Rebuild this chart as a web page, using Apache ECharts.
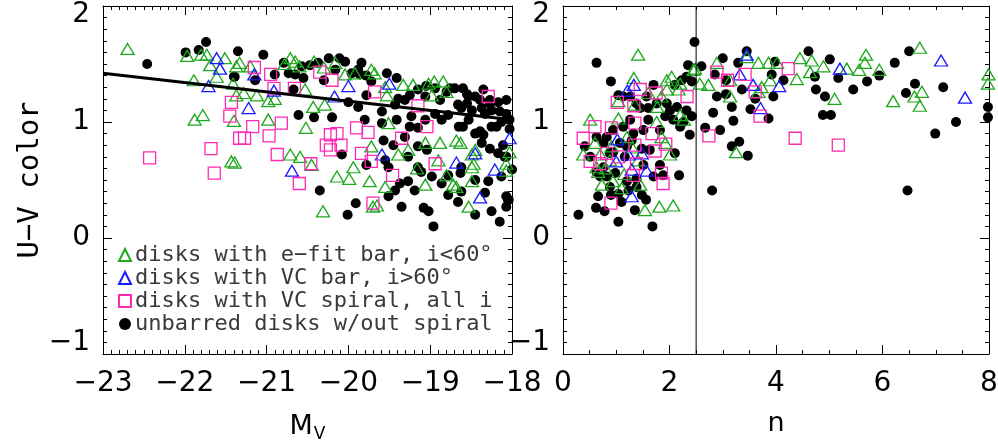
<!DOCTYPE html>
<html>
<head>
<meta charset="utf-8">
<script src="https://cdn.jsdelivr.net/npm/echarts@6/dist/echarts.min.js"></script>
<style>html,body{margin:0;padding:0;background:#fff;}#c{width:998px;height:440px;}</style>
</head>
<body>
<div id="c"></div>
<script>
// ---- data ----
const seriesNames = ['disks with e\u2212fit bar, i<60\u00b0', 'disks with VC bar, i>60\u00b0', 'disks with VC spiral, all i', 'unbarred disks w/out spiral'];
const mvTicks = [-23, -22, -21, -20, -19, -18];
const nTicks = [0, 2, 4, 6, 8];
const colorTicks = [-1, 0, 1, 2];
const fitLine = [[-23, 1.42], [-18, 1.02]];
const nSplit = 2.5;

const leftGreen = [[-22.70,1.63],[-21.97,1.57],[-21.80,1.58],[-21.73,1.58],[-21.51,1.55],[-21.69,1.49],[-21.61,1.39],[-21.89,1.36],[-21.41,1.33],[-21.37,1.48],[-21.88,1.02],[-21.78,1.06],[-21.40,1.01],[-21.43,0.66],[-21.37,1.23],
[-21.33,1.51],[-21.20,1.48],[-20.71,1.55],[-20.65,1.52],[-20.42,1.52],[-20.16,1.51],[-20.04,1.41],[-19.92,1.42],[-19.72,1.45],[-21.28,1.25],[-21.12,1.23],[-20.98,1.18],[-20.53,1.28],[-20.43,1.13],[-20.29,1.15],[-20.98,1.02],[-20.52,0.95],[-21.39,0.65],[-20.71,0.72],[-20.59,0.70],[-20.45,0.63],[-20.14,0.53],[-19.99,0.51],[-19.94,0.61],[-19.74,0.49],[-20.31,0.23],[-19.70,0.27],[-19.72,0.79],[-20.90,1.20],
[-19.68,1.42],[-19.33,1.32],[-19.21,1.32],[-19.02,1.33],[-18.84,1.35],[-18.98,1.23],[-18.80,1.26],[-19.53,1.23],[-19.51,0.99],[-19.27,0.76],[-19.39,0.72],[-19.06,0.82],[-18.88,0.82],[-18.68,0.84],[-18.63,0.82],[-18.90,0.67],[-19.16,0.60],[-18.80,0.54],[-18.72,0.46],[-18.49,0.61],[-18.45,0.76],[-18.49,0.49],[-19.06,0.46],[-19.55,0.44],[-18.53,0.27],[-18.03,0.74],[-18.07,0.64],[-19.65,0.28],
[-18.49,0.72],[-18.47,0.64],[-18.07,0.58],[-18.68,0.44],[-20.78,1.50],[-20.60,1.48],[-20.30,1.47],[-19.55,1.30],[-18.95,1.35]];
const leftBlue = [[-21.61,1.55],[-21.57,1.46],[-21.71,1.31],[-21.15,1.41],[-20.91,1.27],[-21.22,1.12],[-20.17,1.22],[-20.00,1.31],[-20.69,0.58],[-19.50,1.33],[-19.59,0.72],[-18.68,0.65],[-18.45,0.73],[-18.21,0.59],[-18.39,0.35],[-18.03,0.86]];
const leftMagenta = [[-22.43,0.69],[-21.43,1.17],[-21.45,1.05],[-21.68,0.77],[-21.64,0.56],[-21.33,0.86],[-21.15,1.47],[-20.95,1.41],[-20.91,1.29],[-20.66,1.29],[-20.35,1.43],[-20.20,1.36],[-21.17,0.96],[-21.27,0.86],[-20.97,0.88],[-20.82,0.99],[-20.87,0.72],[-20.46,0.64],[-20.60,0.47],[-20.22,0.89],[-20.14,0.90],[-20.27,0.80],[-20.09,0.80],[-20.22,0.76],[-19.90,0.95],[-19.76,0.91],[-19.84,0.73],[-19.72,0.66],[-19.70,0.30],[-19.68,1.26],[-19.15,1.14],[-19.04,0.96],[-19.35,0.86],[-18.94,0.64],[-19.46,0.54],[-18.29,1.22]];
const leftBlack = [[-22.46,1.50],[-21.99,1.60],[-21.83,1.62],[-21.74,1.69],[-21.40,1.39],[-21.35,1.61],[-21.04,1.58],[-20.79,1.51],[-20.65,1.41],[-20.55,1.38],[-20.47,1.49],[-20.24,1.55],[-20.11,1.55],[-20.04,1.52],[-19.84,1.51],[-20.30,1.36],[-19.96,1.42],[-19.72,1.35],[-20.67,1.28],[-19.88,1.13],[-21.14,1.36],[-20.61,1.06],[-20.42,1.04],[-20.20,1.04],[-19.80,1.02],[-20.08,0.72],[-19.78,0.63],[-20.35,0.41],[-19.91,0.30],[-20.01,0.20],[-21.39,1.39],[-20.90,1.41],
[-19.53,1.42],[-19.39,1.20],[-19.25,1.23],[-19.15,1.28],[-18.94,1.29],[-18.80,1.26],[-18.70,1.29],[-18.60,1.29],[-18.53,1.22],[-18.45,1.22],[-18.35,1.28],[-18.27,1.19],[-18.17,1.17],[-18.07,1.19],[-19.59,1.09],[-19.41,1.02],[-19.23,1.05],[-19.25,0.96],[-19.15,0.95],[-18.94,1.07],[-18.78,1.06],[-18.62,1.12],[-18.49,1.10],[-18.37,1.12],[-18.25,1.10],[-18.13,1.00],[-18.03,1.02],[-18.65,0.96],[-18.45,0.90],[-18.35,0.89],[-18.25,0.96],[-19.45,0.80],[-19.31,0.87],[-19.15,0.79],[-19.04,0.76],[-19.27,0.70],[-19.15,0.61],[-19.51,0.61],[-19.11,0.57],[-18.78,0.54],[-18.63,0.56],[-18.27,0.77],[-18.17,0.73],[-18.29,0.49],[-19.37,0.47],[-19.27,0.49],[-19.51,0.36],[-19.43,0.41],[-18.78,0.37],[-18.33,0.39],[-19.08,0.26],[-19.02,0.23],[-18.96,0.10],[-18.25,0.23],[-18.15,0.14],[-18.62,0.61],[-18.07,0.36],[-19.57,0.84],[-19.55,0.67],[-18.05,0.33],
[-19.86,1.41],[-19.41,1.38],[-19.05,1.31],[-18.76,1.29],[-18.55,1.24],[-18.39,1.19],[-18.27,1.16],[-18.60,0.96],[-18.39,0.92],[-18.09,0.70],[-18.62,0.40],[-18.04,0.33],
[-19.43,1.15],[-19.31,1.19],[-19.06,1.22],[-18.88,1.19],[-18.66,1.15],[-18.55,1.16],[-18.33,1.07],[-18.15,1.09],[-18.07,1.07],[-18.19,0.96],[-18.03,0.94],[-19.59,0.99],[-19.06,1.02],[-18.86,1.02],[-18.53,1.02],[-18.37,0.82],[-18.11,0.80],[-18.07,0.70],[-18.00,0.59],[-18.13,0.53],[-18.45,0.50],[-18.86,0.47],[-18.98,0.53],[-19.19,0.41],[-19.35,0.27],[-18.66,0.31],[-18.45,0.20],[-18.07,0.27],
[-20.16,1.45],[-19.88,1.45],[-19.78,1.40],[-20.00,1.17],[-19.78,1.23],[-20.73,1.42],[-20.57,1.48],[-20.37,1.51]];

const rightGreen = [[1.41,1.58],[0.51,1.02],[1.33,1.38],[2.04,1.39],[2.48,1.46],[1.04,1.18],[1.35,1.15],[1.77,1.13],[1.95,1.28],[2.17,1.28],[2.20,1.06],[2.27,1.02],[1.04,1.03],[1.76,1.00],[0.60,0.82],[0.38,0.72],[0.63,0.61],[0.88,0.67],[1.41,0.67],[1.85,0.87],[1.92,0.82],[2.01,0.72],[0.73,0.46],[0.94,0.49],[1.10,0.43],[1.45,0.46],[1.54,0.24],[1.81,0.27],[2.07,0.28],[0.66,0.57],[1.20,0.87],[0.91,0.79],
[2.89,1.51],[3.45,1.56],[3.67,1.51],[3.86,1.51],[4.02,1.51],[4.45,1.55],[4.67,1.53],[4.89,1.48],[4.64,1.43],[4.39,1.37],[2.57,1.33],[2.73,1.32],[3.14,1.36],[3.73,1.30],[3.89,1.36],[3.14,1.22],[3.67,1.26],[5.10,1.20],[3.25,0.74],[2.45,1.45],
[6.70,1.64],[5.69,1.58],[5.67,1.51],[5.56,1.45],[5.94,1.45],[5.33,1.46],[6.20,1.18],[6.60,1.22],[6.74,1.26],[6.70,1.14],[7.99,1.41],[7.98,1.33],
[1.95,1.36],[2.20,1.33],[1.60,1.25],[1.85,1.22],[0.80,0.60],[1.15,0.55],[1.30,0.78],[0.70,0.72]];
const rightBlue = [[1.33,1.32],[1.21,1.27],[1.02,0.85],[1.23,0.72],[1.48,0.73],[1.00,0.66],[1.29,0.59],[1.57,0.58],[1.29,0.36],[3.45,1.58],[3.32,1.41],[3.57,1.32],[4.06,1.31],[3.71,1.12],[5.20,1.46],[7.10,1.53],[7.55,1.21]];
const rightMagenta = [[1.45,1.28],[1.75,1.25],[1.02,1.17],[1.33,1.14],[2.33,1.22],[0.60,0.96],[0.38,0.86],[0.91,0.95],[1.35,0.99],[1.67,0.90],[0.82,0.73],[0.51,0.66],[0.69,0.64],[1.04,0.70],[1.35,0.80],[1.73,0.75],[1.93,0.81],[1.32,0.54],[1.38,0.64],[1.85,0.56],[1.88,0.47],[0.90,0.30],[2.89,1.43],[3.09,1.36],[3.42,1.41],[4.23,1.46],[3.61,1.26],[3.70,1.05],[2.74,0.88],[4.36,0.86],[5.17,0.80]];
const rightBlack = [[2.47,1.69],[0.63,1.51],[0.90,1.35],[1.04,1.23],[1.60,1.12],[1.45,1.12],[1.70,1.32],[2.23,1.36],[2.35,1.49],[2.10,1.32],[1.92,1.05],[2.07,1.02],[2.26,1.00],[2.38,0.89],[1.60,1.02],[1.13,0.96],[0.94,0.93],[0.82,0.87],[0.63,0.87],[0.41,0.79],[0.51,0.70],[0.76,0.61],[0.82,0.53],[0.63,0.57],[0.98,0.56],[1.20,0.49],[1.38,0.51],[1.51,0.63],[1.29,0.84],[1.48,0.77],[1.63,0.76],[1.82,0.63],[1.88,0.54],[2.10,0.73],[2.18,0.54],[0.66,0.36],[0.90,0.37],[1.10,0.31],[0.62,0.26],[0.78,0.23],[1.35,0.24],[1.48,0.37],[1.56,0.33],[0.29,0.20],[1.04,0.14],[1.68,0.10],[1.32,0.90],[1.16,0.70],[0.94,0.74],[2.01,1.10],[2.20,0.96],
[3.00,1.55],[3.29,1.51],[2.60,1.48],[2.85,1.41],[3.06,1.36],[3.45,1.61],[3.92,1.41],[4.14,1.36],[3.98,1.52],[4.61,1.61],[4.73,1.39],[5.01,1.54],[5.17,1.38],[2.89,1.22],[3.06,1.24],[3.36,1.28],[3.61,1.20],[3.95,1.22],[3.17,1.13],[3.52,1.11],[2.82,1.08],[3.20,1.01],[3.86,1.03],[2.67,0.95],[2.95,0.93],[3.17,0.79],[3.31,0.83],[3.47,0.71],[4.75,1.28],[4.92,1.22],[4.88,1.06],[5.03,1.06],[2.80,0.41],
[6.50,1.61],[6.23,1.51],[6.61,1.33],[6.44,1.25],[7.14,1.30],[7.38,1.00],[6.99,0.90],[6.47,0.41],[5.71,1.35],[5.94,1.40],[5.45,1.28],[7.98,1.13],[7.98,1.04],
[1.13,1.22],[1.26,1.22],[2.42,1.05],[2.32,1.39],[2.42,1.35],
[0.76,0.82],[0.88,0.73],[1.07,0.82],[1.20,0.79],[0.70,0.53],[0.88,0.44],[1.04,0.38],[1.23,0.41],[1.38,0.44],[1.70,0.53],[1.26,1.02],[1.51,0.93],[1.82,0.93],[1.95,1.16],[2.14,1.13],[2.32,1.10],[1.76,1.16],[1.57,1.22],[1.38,1.16]];

// ---- chart ----
const GREEN = '#1fa81f', BLUE = '#1a1aff', MAGENTA = '#ff2ab4';
const FONT = 'DejaVu Sans';
const minus = v => (v < 0 ? '\u2212' + Math.abs(v) : String(v));
const tickStyle = {color: '#000', width: 1};
const yMin = colorTicks[0], yMax = colorTicks[colorTicks.length - 1];
const yLabel = v => {
  const s = minus(v);
  if (v === yMax) return '{hi|' + s + '}';
  if (v === yMin) return '{lo|' + s + '}';
  return '{m|' + s + '}';
};
const yRich = {
  hi: {fontSize: 28, fontFamily: FONT, color: '#000', padding: [18, 0, 0, 0]},
  lo: {fontSize: 28, fontFamily: FONT, color: '#000', padding: [0, 0, 22, 0]},
  m: {fontSize: 28, fontFamily: FONT, color: '#000'}
};

function xAx(grid, min, max, interval, minorSplit, pos, showLabel, name, extra) {
  return Object.assign({
    type: 'value', gridIndex: grid, min: min, max: max, interval: interval, position: pos,
    axisLine: {show: true, onZero: false, lineStyle: {color: '#000', width: 1}},
    axisTick: {show: true, inside: true, length: 9, lineStyle: tickStyle},
    minorTick: {show: true, splitNumber: minorSplit, length: 4, lineStyle: tickStyle},
    splitLine: {show: false}, minorSplitLine: {show: false},
    axisLabel: {show: showLabel, margin: 16, fontSize: 28, fontFamily: FONT, color: '#000', formatter: minus},
    name: name || '', nameLocation: 'middle', nameGap: 56,
    nameTextStyle: {fontSize: 27, fontFamily: FONT, color: '#000'}
  }, extra || {});
}
function yAx(grid, pos, showLabel, name) {
  return {
    type: 'value', gridIndex: grid, min: yMin, max: yMax, interval: 1, position: pos,
    axisLine: {show: true, onZero: false, lineStyle: {color: '#000', width: 1}},
    axisTick: {show: true, inside: true, length: 9, lineStyle: tickStyle},
    minorTick: {show: true, splitNumber: 10, length: 4, lineStyle: tickStyle},
    splitLine: {show: false}, minorSplitLine: {show: false},
    axisLabel: {show: showLabel, margin: 13, formatter: yLabel, rich: yRich},
    name: name || '', nameLocation: 'middle', nameGap: 58, nameRotate: 90,
    nameTextStyle: {fontSize: 29, fontFamily: 'DejaVu Sans Mono', color: '#000'}
  };
}

function hollow(color) {
  return {color: 'rgba(0,0,0,0)', borderColor: color, borderWidth: 1.3, opacity: 1};
}
function scat(name, data, xi, yi, symbol, size, style, z) {
  return {type: 'scatter', name: name, xAxisIndex: xi, yAxisIndex: yi, data: data,
    symbol: symbol, symbolSize: size, itemStyle: style, z: z, silent: true, animation: false};
}

const chart = echarts.init(document.getElementById('c'), null, {renderer: 'canvas'});
chart.setOption({
  backgroundColor: '#fff',
  animation: false,
  grid: [
    {left: 103, top: 6, width: 409, height: 348, containLabel: false, outerBoundsMode: 'none'},
    {left: 563, top: 6, width: 426, height: 348, containLabel: false, outerBoundsMode: 'none'}
  ],
  xAxis: [
    xAx(0, mvTicks[0], mvTicks[mvTicks.length - 1], 1, 10, 'bottom', true, '{m|M}{s|V}', {
      nameTextStyle: {fontSize: 27, fontFamily: FONT, color: '#000',
        rich: {m: {fontSize: 27, fontFamily: FONT, color: '#000'}, s: {fontSize: 17, fontFamily: FONT, color: '#000', verticalAlign: 'bottom', padding: [16, 0, 0, 1]}}}
    }),
    xAx(0, mvTicks[0], mvTicks[mvTicks.length - 1], 1, 10, 'top', false),
    xAx(1, nTicks[0], nTicks[nTicks.length - 1], 2, 4, 'bottom', true, 'n'),
    xAx(1, nTicks[0], nTicks[nTicks.length - 1], 2, 4, 'top', false)
  ],
  yAxis: [
    yAx(0, 'left', true, 'U\u2212V color'),
    yAx(0, 'right', false),
    yAx(1, 'left', true),
    yAx(1, 'right', false)
  ],
  legend: {
    orient: 'vertical', left: 113, top: 239, itemGap: 1, itemWidth: 12, itemHeight: 12,
    data: seriesNames, selectedMode: false,
    textStyle: {fontSize: 22, fontFamily: 'DejaVu Sans Mono', color: '#3a3a3a', padding: [0, 0, 0, -1]}
  },
  series: [
    scat(seriesNames[3], leftBlack, 0, 0, 'circle', 10, {color: '#000', opacity: 1}, 2),
    scat(seriesNames[0], leftGreen, 0, 0, 'triangle', [13, 11], hollow(GREEN), 3),
    scat(seriesNames[1], leftBlue, 0, 0, 'triangle', [13, 11], hollow(BLUE), 4),
    scat(seriesNames[2], leftMagenta, 0, 0, 'rect', 12, hollow(MAGENTA), 5),
    {type: 'line', xAxisIndex: 0, yAxisIndex: 0, data: fitLine, symbol: 'none', silent: true,
      lineStyle: {color: '#000', width: 3}, z: 6, animation: false},
    scat(seriesNames[3], rightBlack, 2, 2, 'circle', 10, {color: '#000', opacity: 1}, 2),
    scat(seriesNames[0], rightGreen, 2, 2, 'triangle', [13, 11], hollow(GREEN), 3),
    scat(seriesNames[1], rightBlue, 2, 2, 'triangle', [13, 11], hollow(BLUE), 4),
    scat(seriesNames[2], rightMagenta, 2, 2, 'rect', 12, hollow(MAGENTA), 5),
    {type: 'line', xAxisIndex: 2, yAxisIndex: 2, data: [[nSplit, yMin], [nSplit, yMax]],
      symbol: 'none', silent: true, lineStyle: {color: '#000', width: 1}, z: 6, animation: false}
  ]
});
</script>
</body>
</html>
